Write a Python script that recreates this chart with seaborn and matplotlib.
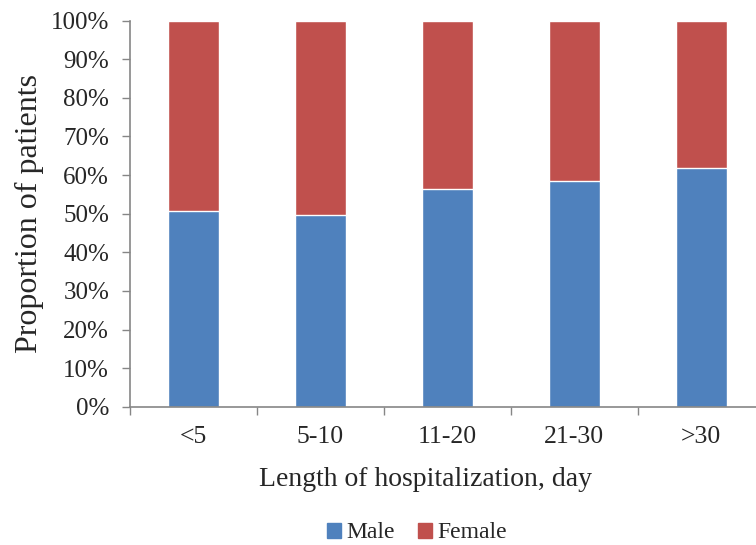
import numpy as np
import pandas as pd
import matplotlib
matplotlib.use('Agg')
import matplotlib.pyplot as plt
from matplotlib.ticker import FixedLocator, PercentFormatter
from matplotlib.patches import Patch
import seaborn as sns

categories = ['<5', '5-10', '11-20', '21-30', '>30']
male = [50.6, 49.6, 56.3, 58.5, 61.8]
female = [49.4, 50.4, 43.7, 41.5, 38.2]

df = pd.DataFrame({'group': categories, 'Male': male, 'Female': female})
df['total'] = df['Male'] + df['Female']

sns.set_style('white')
plt.rcParams['font.family'] = ['Liberation Serif', 'DejaVu Serif']

blue = '#4F81BD'
red = '#C0504D'
axis_grey = '#868686'

fig = plt.figure(figsize=(7.56, 5.45), dpi=100)
# axes spans past the right edge of the picture, like the reference
ax = fig.add_axes([130 / 756, 1 - 406.7 / 545, 634.8 / 756, 386 / 545])

sns.barplot(data=df, x='group', y='total', color=red, width=0.4,
            saturation=1, ax=ax)
sns.barplot(data=df, x='group', y='Male', color=blue, width=0.4,
            saturation=1, ax=ax)

ax.set_xlim(-0.5, len(categories) - 0.5)
ax.set_ylim(0, 100)
ax.yaxis.set_major_locator(FixedLocator(np.arange(0, 101, 10)))
ax.yaxis.set_major_formatter(PercentFormatter(decimals=0))

# category boundaries carry the tick marks
ax.xaxis.set_minor_locator(FixedLocator(np.arange(-0.5, len(categories), 1)))
ax.tick_params(axis='x', which='major', length=0, labelsize=18.5, pad=14)
ax.tick_params(axis='x', which='minor', length=6, width=1, color=axis_grey,
               direction='out', bottom=True)
ax.tick_params(axis='y', which='major', length=6, width=1, color=axis_grey,
               direction='out', left=True, labelsize=18, pad=9)

sns.despine(ax=ax)
for side in ['left', 'bottom']:
    ax.spines[side].set_color(axis_grey)
    ax.spines[side].set_linewidth(1.2)

ax.set_xlabel('Length of hospitalization, day', fontsize=20, labelpad=12)
ax.xaxis.set_label_coords(0.465, -0.155)
ax.set_ylabel('Proportion of patients', fontsize=23, labelpad=5)

handles = [Patch(color=blue, label='Male'), Patch(color=red, label='Female')]
fig.legend(handles=handles, loc='center', bbox_to_anchor=(417 / 756, 1 - 533 / 545),
           ncol=2, frameon=False, fontsize=17, handlelength=0.6,
           handleheight=0.6, handletextpad=0.2, columnspacing=1.0)

fig.savefig('out.png', dpi=100)
